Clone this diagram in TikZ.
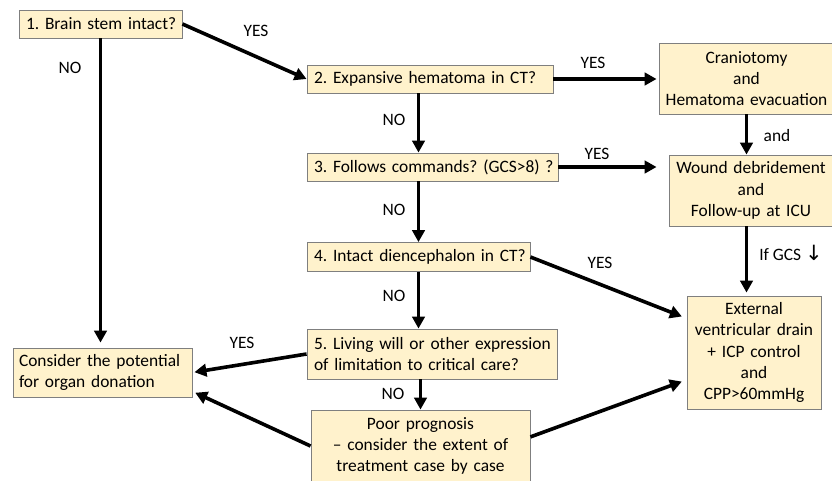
\documentclass[tikz,border=0pt]{standalone}
\usepackage{fontspec}
\setmainfont{Carlito}
\newfontfamily\arrowfont{DejaVu Sans}
\usetikzlibrary{arrows.meta,calc}
\definecolor{boxfill}{HTML}{FFF2CC}
\definecolor{boxline}{HTML}{7F7F7F}
\begin{document}
\begin{tikzpicture}[x=1pt,y=-1pt,
  font=\fontsize{17.4}{21.3}\selectfont\frenchspacing,
  box/.style={draw=boxline, fill=boxfill, line width=0.9pt, inner xsep=0pt, inner ysep=0pt, anchor=center},
  lbox/.style={box, align=left},
  cbox/.style={box, align=center},
  flow/.style={line width=3.6pt, -{Triangle[length=12pt,width=12.5pt]}},
  lab/.style={inner sep=0pt}]
\useasboundingbox (0,0) rectangle (832,480);

% nodes
\node[lbox, text width=149pt, minimum width=163pt, minimum height=28pt] (b1) at (100.5,24) {\mbox{1. Brain stem intact?}};
\node[lbox, text width=232pt, minimum width=246pt, minimum height=28pt] (b2) at (430,79) {\mbox{2. Expansive hematoma in CT?}};
\node[lbox, text width=237pt, minimum width=251pt, minimum height=28pt] (b3) at (432.5,167) {\mbox{3. Follows commands? (GCS>8) ?}};
\node[lbox, text width=209pt, minimum width=223pt, minimum height=29pt] (b4) at (418.5,257) {\mbox{4. Intact diencephalon in CT?}};
\node[lbox, text width=236pt, minimum width=250pt, minimum height=50pt] (b5) at (432,354) {\mbox{5. Living will or other expression}\\\mbox{of limitation to critical care?}};
\node[lbox, text width=167pt, minimum width=179pt, minimum height=49pt] (organ) at (102.5,372.5) {\mbox{Consider the potential}\\\mbox{for organ donation}};
\node[cbox, text width=215pt, minimum width=219pt, minimum height=72pt] (poor) at (420.5,446) {Poor prognosis\\– consider the extent of\\treatment case by case};
\node[cbox, text width=171pt, minimum width=175pt, minimum height=71pt] (cran) at (746.5,78.5) {Craniotomy\\and\\Hematoma evacuation};
\node[cbox, text width=160pt, minimum width=164pt, minimum height=71pt] (wound) at (751,190.5) {Wound debridement\\and\\Follow-up at ICU};
\node[cbox, text width=130pt, minimum width=134pt, minimum height=113pt] (evd) at (754,352.5) {External\\ventricular drain\\+ ICP control\\and\\CPP>60mmHg};

% connectors
\draw[flow] (b1.east) -- (b2.west);
\draw[flow, shorten >=5pt] (b1.south) -- (b1.south |- organ.north);
\draw[flow] (b2.south -| b4.center) -- (b3.north -| b4.center);
\draw[flow] (b3.south -| b4.center) -- (b4.north);
\draw[flow] (b4.south) -- (b5.north -| b4.south);
\draw[flow] (b5.south -| poor.north) -- (poor.north);
\draw[flow, shorten >=2pt] (b2.east) -- (b2.east -| cran.west);
\draw[flow, shorten >=12pt] (b3.east) -- (b3.east -| wound.west);
\draw[flow] (cran.south) -- (wound.north -| cran.south);
\draw[flow, shorten >=3pt] (wound.south -| cran.south) -- (evd.north -| cran.south);
\draw[flow, shorten >=5pt] (b4.east) -- ($(evd.north west)!0.2!(evd.south west)$);
\draw[flow, shorten >=5pt] ($(poor.north east)!0.375!(poor.south east)$) -- ($(evd.north west)!0.74!(evd.south west)$);
\draw[flow, shorten >=2pt] (b5.west) -- (organ.east);
\draw[flow, shorten >=3pt] (poor.west) -- ($(organ.north east)!0.88!(organ.south east)$);

% labels
\node[lab] (l1) at (256,31) {YES};
\node[lab] (l2) at (70,68) {NO};
\node[lab] (l3) at (593,63) {YES};
\node[lab] (l4) at (394,120) {NO};
\node[lab] (l5) at (597,154) {YES};
\node[lab] (l6) at (394,210) {NO};
\node[lab] (l7) at (600,263) {YES};
\node[lab] (l8) at (394,296) {NO};
\node[lab] (l9) at (242,343) {YES};
\node[lab] (l10) at (393,394) {NO};
\node[lab] (l11) at (777,136) {and};
\node[lab] (l12) at (791,253) {If GCS {\arrowfont\fontsize{21}{21}\selectfont ↓}};
\end{tikzpicture}
\end{document}
